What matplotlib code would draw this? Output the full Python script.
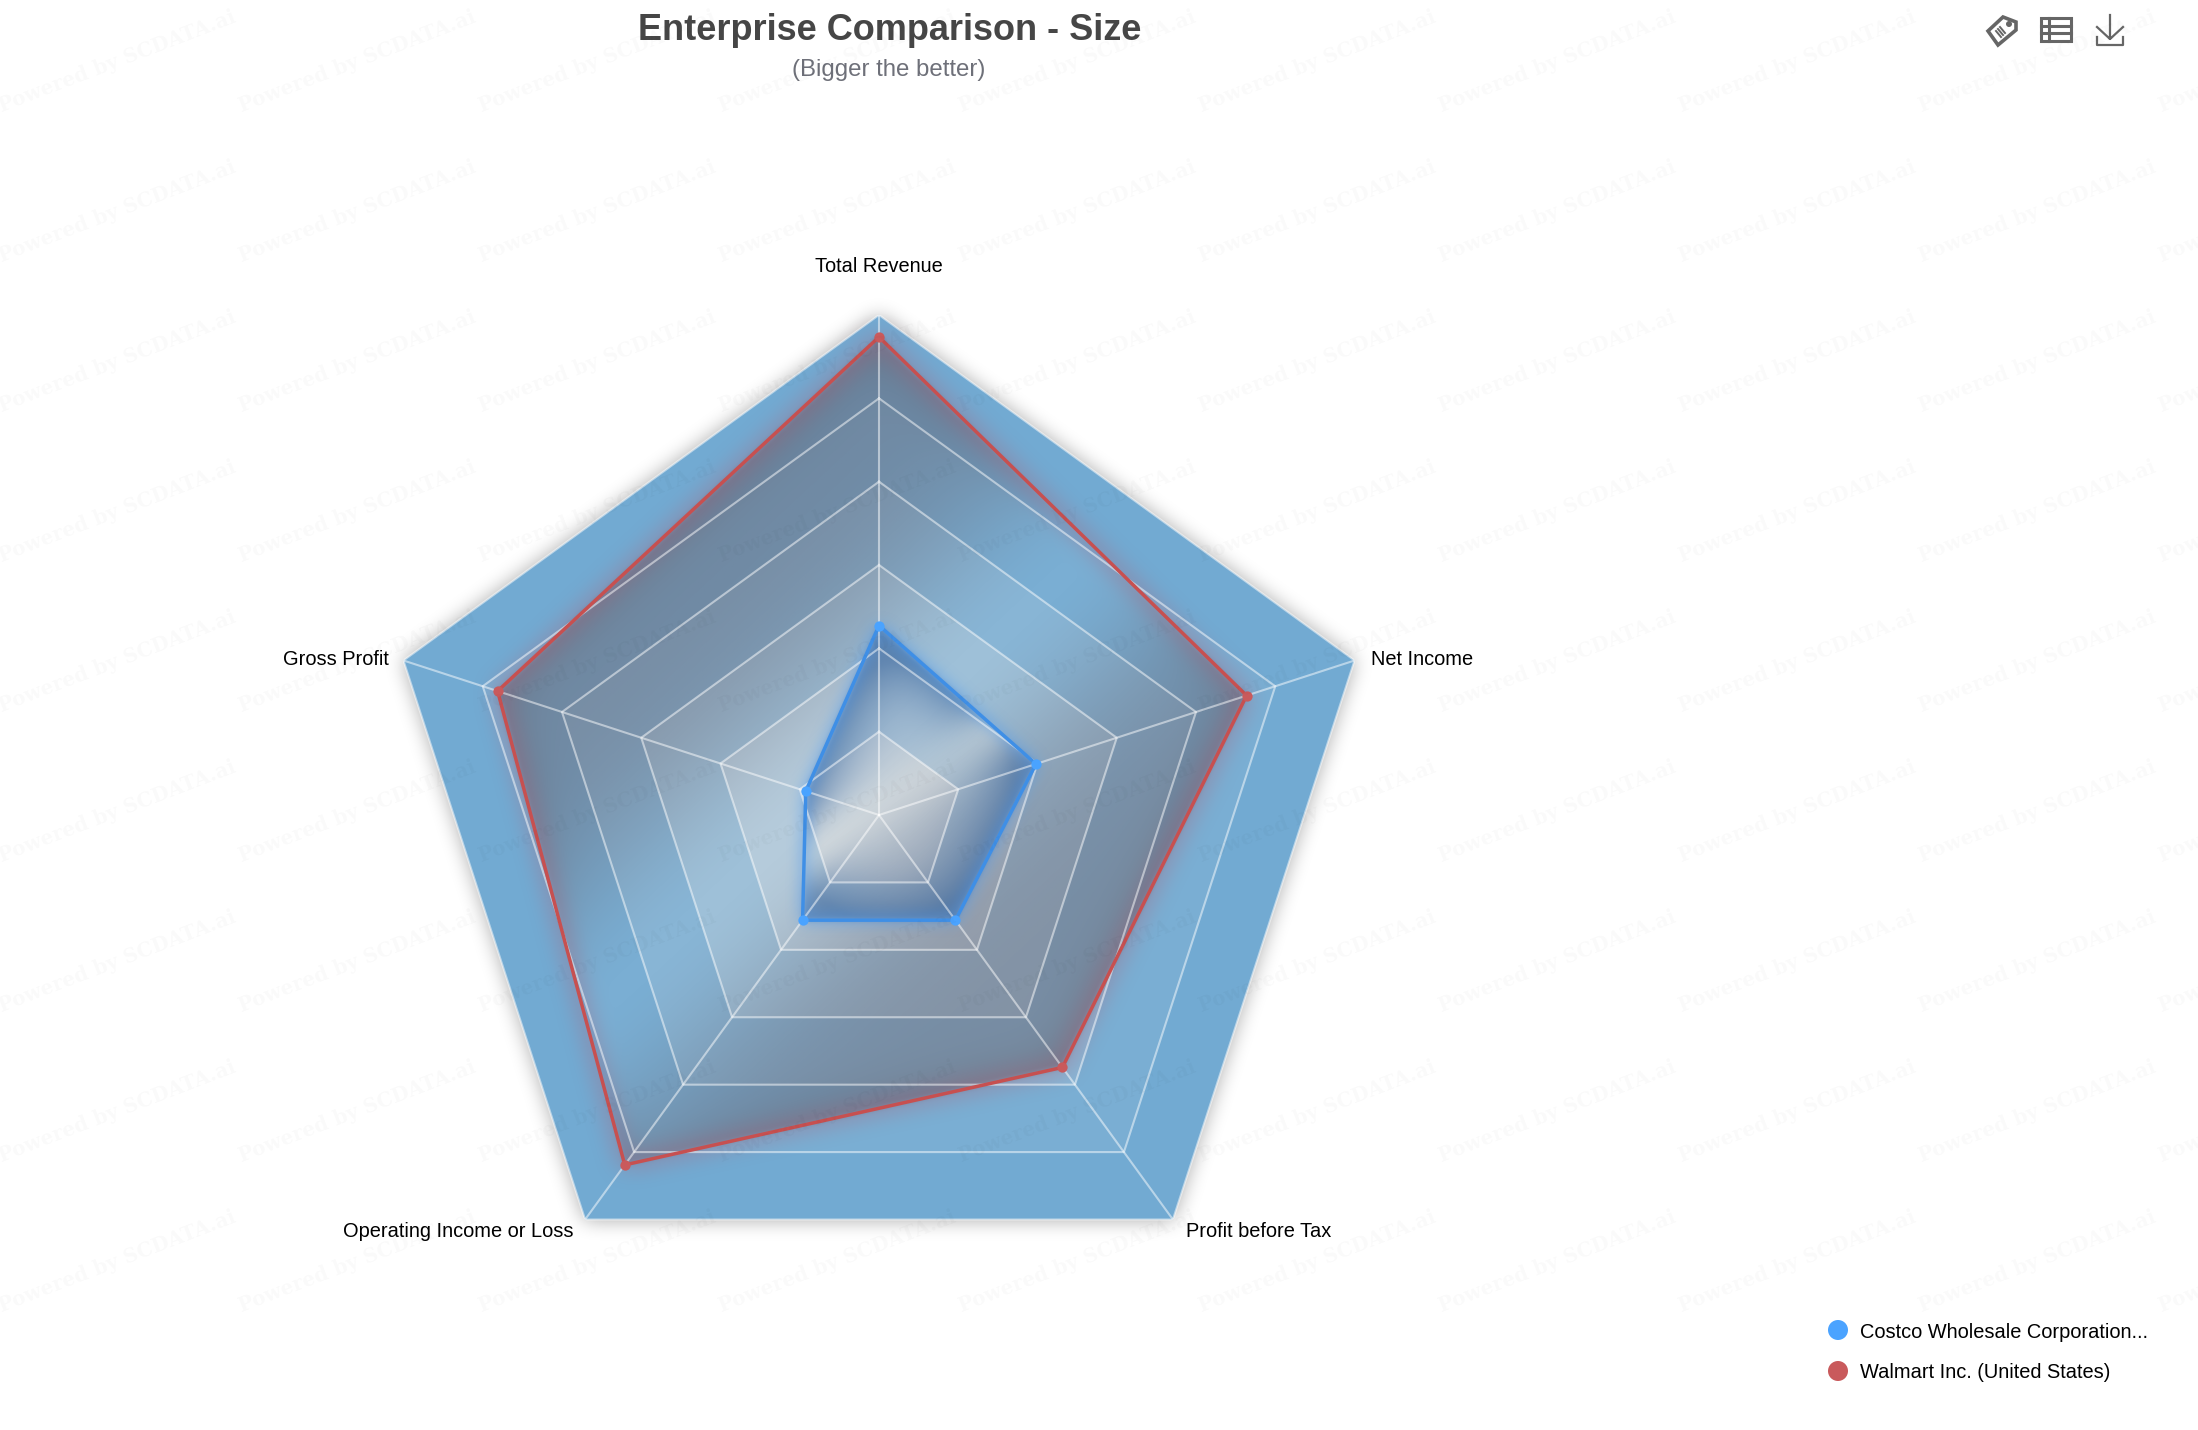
import numpy as np
import matplotlib
matplotlib.use('Agg')
import matplotlib.pyplot as plt
from matplotlib.path import Path
from matplotlib.patches import Circle, Polygon

W, H = 2198, 1430

# radar data, in percent of the outer ring
axis_names = ['Total Revenue', 'Gross Profit', 'Operating Income or Loss', 'Profit before Tax', 'Net Income']
costco = [37.9, 15.4, 26.0, 26.0, 33.0]
walmart = [95.6, 80.2, 86.5, 62.4, 77.3]
series_names = ['Costco Wholesale Corporation...', 'Walmart Inc. (United States)']
ring_count = 6

# light grey mixed into the base blue, inner ring first
ring_mix = [0.85, 0.6, 0.4, 0.2, 0.07, 0.0]
base_blue = np.array([114, 170, 210]) / 255
ring_grey = np.array([225, 225, 225]) / 255

plt.rcParams['font.family'] = ['Liberation Sans', 'DejaVu Sans']


# full figure axes in pixel coords, y going down
def pixel_axes(z):
    a = fig.add_axes([0, 0, 1, 1], zorder=z)
    a.set_xlim(0, W)
    a.set_ylim(H, 0)
    a.axis('off')
    a.patch.set_alpha(0)
    return a


# radar axes sitting at centre (879, 815), radius 500
def radar_axes(z):
    a = fig.add_axes([379 / W, 115 / H, 1000 / W, 1000 / H], projection='polar', zorder=z)
    a.set_theta_zero_location('N')
    a.set_theta_direction(1)
    a.set_ylim(0, 100)
    a.axis('off')
    a.patch.set_alpha(0)
    return a


# three box passes are close enough to a gaussian
def blur(a, r):
    out = a.astype(float)
    for axis in (0, 1):
        for _ in range(3):
            pad = [(r + 1, r) if i == axis else (0, 0) for i in (0, 1)]
            c = np.cumsum(np.pad(out, pad, mode='edge'), axis=axis)
            if axis == 0:
                out = (c[2 * r + 1:, :] - c[:-(2 * r + 1), :]) / (2 * r + 1)
            else:
                out = (c[:, 2 * r + 1:] - c[:, :-(2 * r + 1)]) / (2 * r + 1)
    return out


def to_pixels(ax, vals):
    t = np.append(theta, theta[0])
    r = np.append(vals, vals[0])
    p = ax.transData.transform(np.column_stack([t, r]))
    p[:, 1] = H - p[:, 1]
    return p


def poly_mask(verts):
    pts = np.column_stack([xx.ravel(), yy.ravel()])
    return Path(verts).contains_points(pts).reshape(xx.shape).astype(float)


# alpha over alpha, colours per pixel
def over(top_a, top_c, low_a, low_c):
    a = top_a + low_a * (1 - top_a)
    safe = np.where(a > 0, a, 1)
    rgb = np.zeros(a.shape + (3,))
    for i in range(3):
        rgb[..., i] = (top_a * top_c[i] + low_a * (1 - top_a) * low_c[i]) / safe
    return a, rgb


# area fill of a series: low along a diagonal band, stronger near the edges, plus a soft glow
def area_layer(verts, fill, glow, amax, band_pt, band_deg, band_s, edge_base, edge_r, glow_r, glow_a):
    m = poly_mask(verts)
    ang = np.radians(band_deg)
    d = (xx - band_pt[0]) * np.sin(ang) + (yy - band_pt[1]) * np.cos(ang)
    edge = np.clip(2 * (m - blur(m, edge_r)), 0, 1)
    a = m * amax * (1 - np.exp(-(d / band_s) ** 2)) * (edge_base + (1 - edge_base) * edge)
    a = blur(a, 2)
    g = blur(m, glow_r)
    g = np.clip(4 * g * (1 - g), 0, 1) * glow_a
    alpha, rgb = over(g, np.array(glow) / 255, a, np.array(fill) / 255)
    return np.dstack([rgb, alpha])


fig = plt.figure(figsize=(W / 100, H / 100), dpi=100)
fig.patch.set_facecolor('white')
xx, yy = np.meshgrid(np.arange(W) + 0.5, np.arange(H) + 0.5)
theta = np.radians(np.arange(len(axis_names)) * 360 / len(axis_names))

ax_shadow = pixel_axes(1)
ax_rings = radar_axes(2)
ax_area = pixel_axes(3)
ax = radar_axes(4)
ax_top = pixel_axes(5)

# rings, outermost first so the inner ones paint on top
for i in range(ring_count, 0, -1):
    c = base_blue + (ring_grey - base_blue) * ring_mix[i - 1]
    ax_rings.fill(theta, [100 * i / ring_count] * len(theta), color=c, lw=0)

outer = to_pixels(ax, np.full(len(theta), 100.0))
sh = blur(poly_mask(outer), 9) * 0.34
ax_shadow.imshow(np.dstack([np.zeros_like(sh), np.zeros_like(sh), np.zeros_like(sh), sh]),
                 extent=(0, W, H, 0), aspect='auto', interpolation='nearest')

wm_layer = area_layer(to_pixels(ax, np.array(walmart)), (100, 94, 106), (170, 100, 125),
                      0.62, (879, 748), 43, 130, 0.75, 26, 11, 0.24)
co_layer = area_layer(to_pixels(ax, np.array(costco)), (58, 104, 160), (80, 155, 240),
                      0.66, (879, 808), 34, 30, 0.2, 34, 7, 0.28)
ax_area.imshow(wm_layer, extent=(0, W, H, 0), aspect='auto', interpolation='nearest')
ax_area.imshow(co_layer, extent=(0, W, H, 0), aspect='auto', interpolation='nearest')
ax_area.set_xlim(0, W)
ax_area.set_ylim(H, 0)

# grid lines
for i in range(1, ring_count + 1):
    ax.plot(np.append(theta, theta[0]), [100 * i / ring_count] * (len(theta) + 1),
            color='white', alpha=0.5, lw=1.5, zorder=2)
for t in theta:
    ax.plot([t, t], [0, 100], color='white', alpha=0.5, lw=1.5, zorder=2)

# series lines and points
for vals, line_c, dot_c in [(costco, '#3f8fe6', '#4aa3ff'), (walmart, '#c75050', '#c95a5c')]:
    ax.plot(np.append(theta, theta[0]), vals + vals[:1], color=line_c, lw=2.5, zorder=3,
            solid_joinstyle='miter')
    ax.plot(theta, vals, ls='', marker='o', ms=7.4, mfc=dot_c, mec='none', zorder=4)

# axis names, offsets in pixels from the corner of the outer ring
name_pos = [(0, 48, 'center'), (-15, 1, 'right'), (-12, -12, 'right'), (13, -12, 'left'), (16, 1, 'left')]
for name, t, (dx, dy, ha) in zip(axis_names, theta, name_pos):
    ax.annotate(name, (t, 100), xytext=(dx, dy), textcoords='offset pixels', ha=ha, va='center',
                fontsize=14.4, color='black', annotation_clip=False)

fig.text(889.5 / W, 1 - 31 / H, 'Enterprise Comparison - Size', ha='center', va='center',
         fontsize=26, fontweight='bold', color='#464646', zorder=6)
fig.text(889 / W, 1 - 70 / H, '(Bigger the better)', ha='center', va='center',
         fontsize=17.3, color='#6e7079', zorder=6)

# legend
for name, c, y, dy in zip(series_names, ['#4ba3ff', '#c95a5c'], [1330, 1371], [2, 1]):
    ax_top.add_patch(Circle((1838, y), 10, fc=c, ec='none'))
    ax_top.text(1860, y + dy, name, ha='left', va='center', fontsize=14.4, color='black')

# toolbox icons
icon = '#666666'
ax_top.add_patch(Polygon([(1988, 31), (2003, 17), (2016, 22), (2016, 30), (1998, 45)], fc='none', ec=icon, lw=2.6))
ax_top.add_patch(Circle((2009, 24), 3, fc=icon, ec='none'))
ax_top.plot([1996, 2001, np.nan, 1998, 2003, np.nan, 2000, 2005], [31, 37, np.nan, 29, 35, np.nan, 27, 33], color=icon, lw=1.4)
ax_top.add_patch(Polygon([(2041, 18), (2071, 18), (2071, 41), (2041, 41)], fc='none', ec=icon, lw=2.2))
ax_top.plot([2041, 2071, np.nan, 2041, 2071, np.nan, 2049, 2049], [26, 26, np.nan, 33, 33, np.nan, 18, 41], color=icon, lw=2.2)
ax_top.plot([2110, 2110, np.nan, 2097, 2110, 2123, np.nan, 2097, 2097, 2123, 2123],
            [15, 38, np.nan, 27, 39, 27, np.nan, 37, 45, 45, 37], color=icon, lw=1.6)

# watermark tiles, over everything
for row in range(9):
    for col in range(10):
        fig.text((col * 240 + 3) / W, 1 - (116 + row * 150) / H, 'Powered by SCDATA.ai', rotation=21,
                 rotation_mode='anchor', ha='left', va='bottom', family='DejaVu Serif',
                 fontweight='bold', fontsize=14.3, color='black', alpha=0.022, zorder=7)

fig.savefig('out.png', dpi=100)
